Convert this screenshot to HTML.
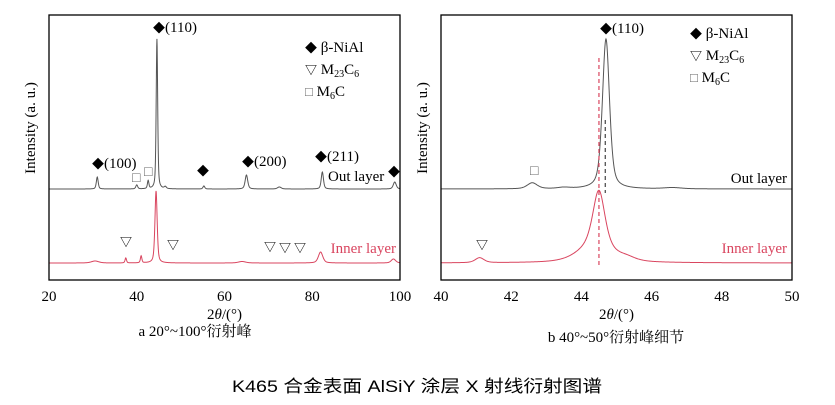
<!DOCTYPE html>
<html><head><meta charset="utf-8">
<style>
html,body{margin:0;padding:0;background:#fff;}
svg{display:block;font-family:"Liberation Serif","Noto Serif CJK SC",serif;}
.cj{font-family:"Liberation Sans","WenQuanYi Zen Hei",sans-serif;}
</style></head><body>
<svg id="c" width="835" height="405" viewBox="0 0 835 405" xmlns="http://www.w3.org/2000/svg">
<g id="pa"></g>
<g id="pb"></g>
<text x="195" y="336" font-size="15" text-anchor="middle">a  20°~100°衍射峰</text>
<text x="616" y="342" font-size="15" text-anchor="middle">b  40°~50°衍射峰细节</text>
<text class="cj" x="417" y="392" font-size="17" text-anchor="middle" textLength="370" lengthAdjust="spacingAndGlyphs">K465 合金表面 AlSiY 涂层 X 射线衍射图谱</text>
</svg>
<script>
// Panel A peaks: [2theta, height(px), width]
const aTicks=[20,40,60,80,100];
const aOutPeaks=[[31,12,0.25],[40,4,0.25],[42.6,8,0.2],[44.6,150,0.2],[46.5,2,0.3],[55.3,3,0.25],[65,14,0.35],[72.5,2,0.5],[82.3,17,0.3],[98.8,7,0.4]];
const aInPeaks=[[30.5,2,1],[37.5,5,0.2],[41,7,0.2],[44.4,72,0.3],[64,1.5,1],[81.9,11,0.6],[98.5,4,0.6]];
// Panel B peaks
const bTicks=[40,42,44,46,48,50];
const bOutPeaks=[[42.6,6,0.17],[43.5,1.2,0.2],[44.7,150,0.12],[46.6,1.2,0.3]];
const bInPeaks=[[41.1,5,0.15],[44.5,55,0.2],[44.4,18,0.55],[45.3,3,0.3]];
const NS='http://www.w3.org/2000/svg';
function mk(p,t,a){const e=document.createElementNS(NS,t);for(const k in a)e.setAttribute(k,a[k]);p.appendChild(e);return e;}
function spec(peaks,x){let s=0;for(const [c,h,w] of peaks){const d=(x-c)/w;s+=h*(0.5/(1+d*d)+0.5*Math.exp(-0.693*d*d));}return s;}
function panel(g,X0,X1,xmin,xmax,ticks,outP,inP,step){
  const sx=v=>X0+(v-xmin)/(xmax-xmin)*(X1-X0);
  const Y0=15,Y1=280,oB=189,iB=263;
  function line(peaks,base,col,nm){let d='';for(let v=xmin;v<=xmax+1e-9;v+=step){d+=(d?'L':'M')+sx(v).toFixed(2)+','+(base-spec(peaks,v)).toFixed(2);}
    const p=mk(g,'path',{d:d,fill:'none',stroke:col,'stroke-width':1});
    
    }
  line(outP,oB,'#555','out-layer-line');
  line(inP,iB,'#d9455f','inner-layer-line');
  const f=mk(g,'rect',{x:X0,y:Y0,width:X1-X0,height:Y1-Y0,fill:'none',stroke:'#000','stroke-width':1.3});
  
  
  for(const t of ticks){const tx=mk(g,'text',{x:sx(t),y:301,'font-size':15,'text-anchor':'middle'});tx.textContent=t;
    
    }
  const xt=mk(g,'text',{x:(X0+X1)/2,y:319,'font-size':15,'text-anchor':'middle'});
  xt.innerHTML='2<tspan font-style="italic">θ</tspan>/(°)';
  
  
  const yt=mk(g,'text',{x:0,y:0,'font-size':15,'text-anchor':'middle',transform:`translate(${X0-14},128) rotate(-90)`});
  yt.textContent='Intensity (a. u.)';
  
  
  return sx;
}
function txt(g,x,y,s,fs,col,nm,anchor){const t=mk(g,'text',{x:x,y:y,'font-size':fs,fill:col||'#000','text-anchor':anchor||'start'});t.innerHTML=s;
  
  return t;}
const DM='<tspan font-size="12">◆</tspan>';
function legend(g,x,y){
  txt(g,x,y,DM+' β-NiAl',15,'#000','legend-nial');
  txt(g,x,y+22,'<tspan font-size="12">▽</tspan> M<tspan font-size="10" dy="3">23</tspan><tspan dy="-3">C</tspan><tspan font-size="10" dy="3">6</tspan>',15,'#000','legend-m23c6');
  txt(g,x,y+44,'<tspan fill="#666" font-size="13">□</tspan> M<tspan font-size="10" dy="3">6</tspan><tspan dy="-3">C</tspan>',15,'#000','legend-m6c');
}
const ga=document.getElementById('pa'),gb=document.getElementById('pb');
const sa=panel(ga,49,400,20,100,aTicks,aOutPeaks,aInPeaks,0.05);
const sb=panel(gb,441,792,40,50,bTicks,bOutPeaks,bInPeaks,0.01);
// annotations panel a
txt(ga,153,32,DM+'(110)',15,'#000','label-110');
txt(ga,92,168,DM+'(100)',15,'#000','label-100');
txt(ga,197,175,'◆',12,'#000','marker-nial-55');
txt(ga,242,166,DM+'(200)',15,'#000','label-200');
txt(ga,315,161,DM+'(211)',15,'#000','label-211');
txt(ga,388,176,'◆',12,'#000','marker-nial-99');
txt(ga,132,182,'□',14,'#666','marker-m6c-1');
txt(ga,144,176,'□',14,'#666','marker-m6c-2');
txt(ga,328,181,'Out layer',15,'#000','out-layer-label');
txt(ga,396,253,'Inner layer',15,'#d9455f','inner-layer-label','end');
[[126,246],[173,249],[270,251],[285,252],[300,252]].forEach(([x,y])=>txt(ga,x,y,'▽',12,'#000','marker-m23c6','middle'));
legend(ga,305,52);
// annotations panel b
txt(gb,600,33,DM+'(110)',15,'#000','label-110-b');
txt(gb,530,175,'□',14,'#666','marker-m6c-b');
txt(gb,476,249,'▽',12,'#000','marker-m23c6-b');
txt(gb,787,183,'Out layer',15,'#000','out-layer-label-b','end');
txt(gb,787,253,'Inner layer',15,'#d9455f','inner-layer-label-b','end');
legend(gb,690,38);
const d1=mk(gb,'line',{x1:sb(44.5),x2:sb(44.5),y1:58,y2:268,stroke:'#d9455f','stroke-dasharray':'4,3','stroke-width':1.2});


const d2=mk(gb,'line',{x1:sb(44.68),x2:sb(44.68),y1:120,y2:193,stroke:'#444','stroke-dasharray':'4,3','stroke-width':1.2});


</script>
</body></html>
